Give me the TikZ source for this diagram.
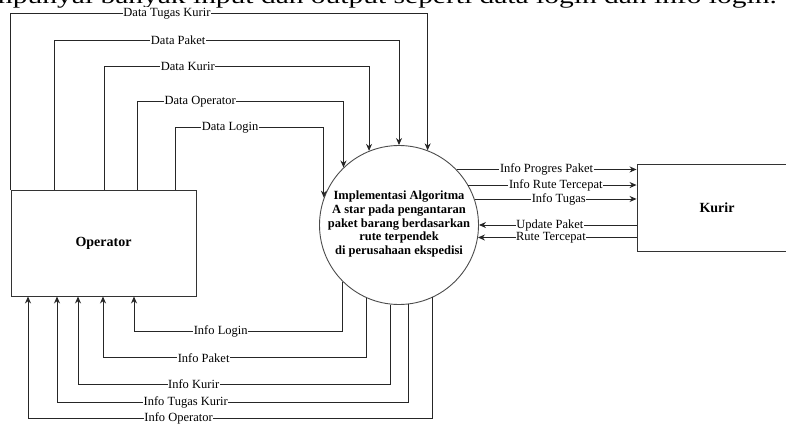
\documentclass[tikz,border=0pt]{standalone}
\usepackage{fontspec}
\setmainfont{Liberation Serif}
\usetikzlibrary{arrows.meta,calc}
\begin{document}
\begin{tikzpicture}[x=1pt,y=-1pt,
  flow/.style={draw=black!85,line width=0.9pt,-{Stealth[length=7pt,width=6pt]}},
  lbl/.style={fill=white,inner sep=0.6pt,font=\fontsize{12.5}{14}\selectfont,text=black},
  ent/.style={draw=black!80,line width=0.9pt,rectangle,font=\bfseries\fontsize{14}{16}\selectfont},
  proc/.style={draw=black!70,line width=0.9pt,circle,minimum size=159pt,inner sep=0pt},
]
\useasboundingbox (0,0) rectangle (786,423);
\clip (0,0) rectangle (786,423);
\node[anchor=base east,inner sep=0pt,font=\fontsize{22}{26}\selectfont] (head) at (777,4) {\scalebox{1.34}[1]{mpunyai banyak input dan output seperti data login dan info login.}};

\node[ent,minimum width=185pt,minimum height=106pt] (op) at (103.5,243) {Operator};
\node[ent,minimum width=160pt,minimum height=87.7pt] (kurir) at (717,208) {Kurir};
\node[proc] (circ) at (399,225) {};
\node[align=center,font=\bfseries\fontsize{12.5}{13.8}\selectfont,inner sep=0pt] (proctext) at (399,224) {Implementasi Algoritma\\A star pada pengantaran\\paket barang berdasarkan\\rute terpendek\\di perusahaan ekspedisi};

% inputs from Operator
\draw[flow] (op.north west) -- ++(0,-176) -| (circ.69.4) node[lbl,pos=0.1875]{Data Tugas Kurir};
\draw[flow] (op.north -| 54,0) -- ++(0,-149.5) -| (circ.north) node[lbl,pos=0.18]{Data Paket};
\draw[flow] (op.north -| 104,0) -- ++(0,-123.3) -| (circ.112.9) node[lbl,pos=0.158]{Data Kurir};
\draw[flow] (op.north -| 137,0) -- ++(0,-88) -| (circ.134.8) node[lbl,pos=0.153]{Data Operator};
\draw[flow] (op.north -| 175,0) -- ++(0,-62) -| (circ.160) node[lbl,pos=0.185]{Data Login};

% outputs to Operator
\draw[flow] (circ.225.2) -- ++(0,49.6) -| (op.south -| 134,0) node[lbl,pos=0.292]{Info Login};
\draw[flow] (circ.246.3) -- ++(0,59.9) -| (op.south -| 103,0) node[lbl,pos=0.309]{Info Paket};
\draw[flow] (circ.264.2) -- ++(0,79.9) -| (op.south -| 78,0) node[lbl,pos=0.315]{Info Kurir};
\draw[flow] (circ.277.2) -- ++(0,97.8) -| (op.south -| 57,0) node[lbl,pos=0.317]{Info Tugas Kurir};
\draw[flow] (circ.295.3) -- ++(0,121.1) -| (op.south -| 28,0) node[lbl,pos=0.314]{Info Operator};

% Kurir side
\draw[flow] (circ.44.8) -- (circ.44.8 -| kurir.west) node[lbl,midway]{Info Progres Paket};
\draw[flow] (circ.30.2) -- (circ.30.2 -| kurir.west) node[lbl,pos=0.52]{Info Rute Tercepat};
\draw[flow] (circ.19.1) -- (circ.19.1 -| kurir.west) node[lbl,pos=0.52]{Info Tugas};
\draw[flow] (kurir.west |- circ.east) -- (circ.east) node[lbl,pos=0.55]{Update Paket};
\draw[flow] (kurir.west |- circ.351.1) -- (circ.351.1) node[lbl,pos=0.54]{Rute Tercepat};
\end{tikzpicture}
\end{document}
